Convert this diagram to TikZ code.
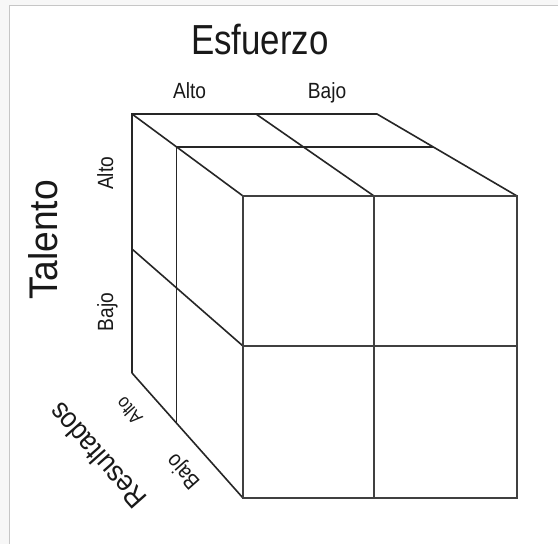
\documentclass[tikz,border=0pt]{standalone}
\usepackage{fontspec}
\setmainfont{Liberation Sans}
\usepackage{graphicx}
\usetikzlibrary{calc}
\newcommand{\cubelbl}[3]{{\fontsize{#1}{#1}\selectfont\scalebox{#2}[1]{#3}}}

\begin{document}
\begin{tikzpicture}[x=1pt,y=-1pt,
    every node/.style={inner sep=0pt,outer sep=0pt,text=black!90},
    edge/.style={line width=1.6pt,draw=black!85},
    faceedge/.style={line width=2.1pt,draw=black!75}]
    \useasboundingbox (0,0) rectangle (558,544);
    \fill[gray!6] (0,0) rectangle (558,544);
    \draw[fill=white,draw=gray!45,line width=1pt] (9.5,5.5) rectangle (562,548);
    % corners of the cube
    \coordinate (bTL) at (132,114); \coordinate (bTM) at (256,114); \coordinate (bTR) at (377,114);
    \coordinate (bML) at (132,249); \coordinate (bBL) at (132,373);
    \coordinate (fTL) at (243,196); \coordinate (fTM) at (374,196); \coordinate (fTR) at (517,196);
    \coordinate (fML) at (243,346); \coordinate (fMR) at (517,346);
    \coordinate (fBL) at (243,498); \coordinate (fBM) at (374,498); \coordinate (fBR) at (517,498);
    \coordinate (mTL) at ($(bTL)!0.4!(fTL)$); \coordinate (mTR) at ($(bTR)!0.4!(fTR)$);
    \coordinate (mBL) at ($(bBL)!0.4!(fBL)$);
    % back and middle layer
    \draw[edge] (bBL)--(bTL)--(bTR)--(fTR);
    \draw[edge] (bTL)--(fTL); \draw[edge] (bTM)--(fTM);
    \draw[edge] (bML)--(fML); \draw[edge] (bBL)--(fBL);
    \draw[edge] (mBL)--(mTL)--(mTR);
    % front face
    \draw[faceedge] (fTL) rectangle (fBR);
    \draw[faceedge] (fTM)--(fBM); \draw[faceedge] (fML)--(fMR);
    % labels
    \node[anchor=base] (esf) at (260,54) {\cubelbl{42}{0.83}{Esfuerzo}};
    \node[anchor=base] (esfalto) at (189.5,98) {\cubelbl{22}{0.87}{Alto}};
    \node[anchor=base] (esfbajo) at (327,98) {\cubelbl{22}{0.87}{Bajo}};
    \node[anchor=base,rotate=90] (tal) at (57,240) {\cubelbl{40}{0.93}{Talento}};
    \node[anchor=base,rotate=90] (talalto) at (113,173.5) {\cubelbl{22}{0.87}{Alto}};
    \node[anchor=base,rotate=90] (talbajo) at (113,312) {\cubelbl{22}{0.87}{Bajo}};
    \node[rotate=131.6] (res) at (97,456) {\cubelbl{29}{0.9}{Resultados}};
    \node[rotate=131.6] (resalto) at (129,411) {\cubelbl{19}{0.87}{Alto}};
    \node[rotate=131.6] (resbajo) at (184,471) {\cubelbl{22}{0.87}{Bajo}};
\end{tikzpicture}
\end{document}
